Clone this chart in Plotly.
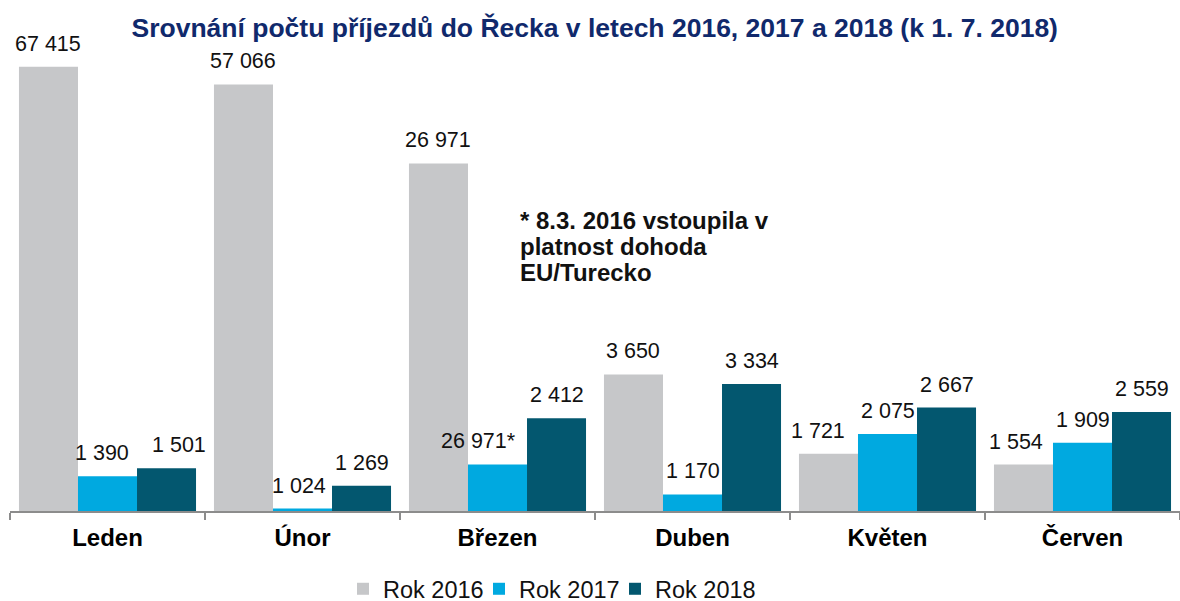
import math
import plotly.graph_objects as go

months = ["Leden", "Únor", "Březen", "Duben", "Květen", "Červen"]
series_names = ["Rok 2016", "Rok 2017", "Rok 2018"]
values_2016 = [67415, 57066, 26971, 3650, 1721, 1554]
values_2017 = [1390, 1024, 1555, 1170, 2075, 1909]
values_2018 = [1501, 1269, 2412, 3334, 2667, 2559]
labels_2016 = ["67 415", "57 066", "26 971", "3 650", "1 721", "1 554"]
labels_2017 = ["1 390", "1 024", "26 971*", "1 170", "2 075", "1 909"]
labels_2018 = ["1 501", "1 269", "2 412", "3 334", "2 667", "2 559"]

title = "Srovnání počtu příjezdů do Řecka v letech 2016, 2017 a 2018 (k 1. 7. 2018)"
footnote_lines = ["* 8.3. 2016 vstoupila v", "platnost dohoda", "EU/Turecko"]

colors = ["#C6C7C9", "#00A9E0", "#03576F"]
FONT = "Liberation Sans, Arial, sans-serif"

all_values = [values_2016, values_2017, values_2018]
all_labels = [labels_2016, labels_2017, labels_2018]

# small horizontal nudges of individual data labels (series index, month index) -> px
label_nudge = {(1, 0): -6, (2, 0): 12, (1, 2): -19, (0, 4): -10, (0, 5): -7, (1, 1): -4}

legend_ids = ["legend", "legend2", "legend3"]
legend_left_px = [343, 479, 615]

fig = go.Figure()
for name, vals, col, lg in zip(series_names, all_values, colors, legend_ids):
    fig.add_trace(go.Bar(name=name, x=months, y=vals, marker=dict(color=col, line=dict(width=0)),
                         hoverinfo="skip", cliponaxis=False, legend=lg))

PLOT_H = 461
bar_px = 1170 / 6 * (1 - 0.092) / 3
annotations = []
for i, (vals, labs) in enumerate(zip(all_values, all_labels)):
    for j, (v, t) in enumerate(zip(vals, labs)):
        annotations.append(dict(
            x=months[j], y=math.log10(v), xref="x", yref="y", text=t, showarrow=False,
            xshift=(i - 1) * bar_px + label_nudge.get((i, j), 0), yshift=9, yanchor="bottom",
            font=dict(family=FONT, size=21.5, color="#111111")))

for k, line in enumerate(footnote_lines):
    annotations.append(dict(
        x=0.434, y=(511 - 221 - 25.5 * k) / PLOT_H, xref="paper", yref="paper",
        xanchor="left", yanchor="middle", text=line, showarrow=False, align="left",
        font=dict(family=FONT, size=24, color="#111111", weight="bold")))

legend_common = dict(orientation="h", xanchor="left", xref="container",
                     y=(601 - 589) / 601, yref="container", yanchor="middle",
                     font=dict(family=FONT, size=23.5, color="#111111"), itemwidth=30,
                     traceorder="normal", bgcolor="rgba(0,0,0,0)", borderwidth=0)

legend_layout = {lg: dict(x=px / 1180, **legend_common) for lg, px in zip(legend_ids, legend_left_px)}

fig.update_layout(
    width=1180, height=601,
    margin=dict(l=10, r=0, t=50, b=90),
    paper_bgcolor="white", plot_bgcolor="white",
    barmode="group", bargap=0.092, bargroupgap=0,
    title=dict(text=title, x=0.504, xanchor="center", y=1 - 28 / 601, yanchor="middle",
               font=dict(family=FONT, size=26.5, color="#10296C", weight="bold")),
    xaxis=dict(type="category", showgrid=False, showline=True, linecolor="#8C8C8C", linewidth=2,
               ticks="outside", tickson="boundaries", ticklen=7, tickwidth=2, tickcolor="#8C8C8C",
               tickfont=dict(family=FONT, size=24, color="black", weight="bold"),
               ticklabelstandoff=4),
    yaxis=dict(type="log", range=[3, 4.898], showgrid=False, showline=False, showticklabels=False,
               ticks="", zeroline=False),
    annotations=annotations,
    showlegend=True,
    **legend_layout,
)

fig.write_html("out.html", config={"displayModeBar": False},
               post_script="document.body.style.margin='0';document.body.style.overflow='hidden';")
